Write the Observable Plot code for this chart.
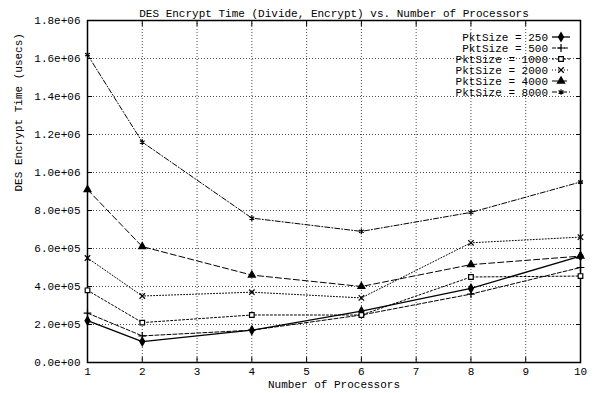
<!DOCTYPE html>
<html><head><meta charset="utf-8">
<script src="https://cdn.jsdelivr.net/npm/d3@7"></script>
<script src="https://cdn.jsdelivr.net/npm/@observablehq/plot@0.6"></script>
<style>body{margin:0;background:#fff}svg{display:block}</style>
</head><body><div id="chart"></div>
<script>
const processors = [1, 2, 4, 6, 8, 10];
const series = ["PktSize = 250", "PktSize = 500", "PktSize = 1000", "PktSize = 2000", "PktSize = 4000", "PktSize = 8000"];
const pkt250  = [2.2e5, 1.1e5, 1.7e5, 2.7e5, 3.9e5, 5.6e5];
const pkt500  = [2.6e5, 1.4e5, 1.7e5, 2.5e5, 3.6e5, 5.0e5];
const pkt1000 = [3.8e5, 2.1e5, 2.5e5, 2.5e5, 4.5e5, 4.55e5];
const pkt2000 = [5.5e5, 3.5e5, 3.7e5, 3.4e5, 6.3e5, 6.6e5];
const pkt4000 = [9.1e5, 6.1e5, 4.6e5, 4.0e5, 5.15e5, 5.6e5];
const pkt8000 = [1.62e6, 1.16e6, 7.6e5, 6.9e5, 7.9e5, 9.5e5];
const xTicks = [1, 2, 3, 4, 5, 6, 7, 8, 9, 10];
const yTicks = [0, 2e5, 4e5, 6e5, 8e5, 1e6, 1.2e6, 1.4e6, 1.6e6, 1.8e6];
const title = "DES Encrypt Time (Divide, Encrypt) vs. Number of Processors";
const xLabel = "Number of Processors";
const yLabel = "DES Encrypt Time (usecs)";

const allValues = [pkt250, pkt500, pkt1000, pkt2000, pkt4000, pkt8000];
const styles = [
  {dash: null, symbol: "diamond", fill: "black", sw: 1.3},
  {dash: "4,2", symbol: "plus", fill: "none", sw: 1},
  {dash: "2,2", symbol: "square", fill: "white", sw: 1},
  {dash: "1,2", symbol: "times", fill: "none", sw: 1},
  {dash: "6,3", symbol: "triangle", fill: "black", sw: 1},
  {dash: "5,2,1,2", symbol: "asterisk", fill: "none", sw: 1}
];
const data = [];
series.forEach((s, i) => processors.forEach((p, j) => data.push({series: s, idx: i, x: p, y: allValues[i][j]})));

const fmt = d => {
  const [m, e] = d.toExponential(1).split("e");
  const sign = e[0] === "-" ? "-" : "+";
  const n = e.replace(/[+-]/, "").padStart(2, "0");
  return m + "e" + sign + n;
};

const font = "'Liberation Mono', 'DejaVu Sans Mono', monospace";
const marks = [
  Plot.gridX(xTicks, {stroke: "black", strokeOpacity: 0.7, strokeDasharray: "1,2"}),
  Plot.gridY(yTicks, {stroke: "black", strokeOpacity: 0.7, strokeDasharray: "1,2"}),
  Plot.axisX({ticks: xTicks, tickSize: -5, tickPadding: 10, tickFormat: d => String(d), label: null}),
  Plot.axisX({anchor: "top", ticks: xTicks, tickSize: -5, tickFormat: () => "", label: null}),
  Plot.axisY({ticks: yTicks, tickSize: -5, tickPadding: 12, tickFormat: fmt, label: null}),
  Plot.axisY({anchor: "right", ticks: yTicks, tickSize: -5, tickFormat: () => "", label: null}),
  Plot.frame({stroke: "black", strokeWidth: 1.5}),
  Plot.text([title], {frameAnchor: "top", dy: -11, fontSize: 11, fill: "black"}),
  Plot.text([xLabel], {frameAnchor: "bottom", dy: 25, fontSize: 11, fill: "black"}),
  Plot.text([yLabel], {frameAnchor: "left", dx: -69, rotate: -90, fontSize: 11, fill: "black"})
];
series.forEach((s, i) => {
  const st = styles[i];
  const d = data.filter(r => r.idx === i);
  marks.push(Plot.line(d, {x: "x", y: "y", stroke: "black", strokeWidth: st.sw, strokeDasharray: st.dash}));
  marks.push(Plot.dot(d, {x: "x", y: "y", symbol: () => st.symbol, r: 2.6, stroke: "black", fill: st.fill, strokeWidth: 1.2}));
});

const chart = Plot.plot({
  width: 597, height: 393,
  marginLeft: 87, marginRight: 17, marginTop: 20, marginBottom: 31,
  style: {fontFamily: font, fontSize: "11px", color: "black", background: "white"},
  x: {domain: [1, 10]},
  y: {domain: [0, 1.8e6]},
  symbol: {type: "identity"},
  marks
});
document.getElementById("chart").append(chart);

// legend (inside plot, top-right)
const svg = d3.select(chart);
const lg = svg.append("g").attr("font-family", font).attr("font-size", 11);
const symMap = {diamond: d3.symbolDiamond, plus: d3.symbolPlus, square: d3.symbolSquare, times: d3.symbolTimes, triangle: d3.symbolTriangle, asterisk: d3.symbolAsterisk};
series.forEach((s, i) => {
  const st = styles[i];
  const y = 37 + i * 11;
  lg.append("text").attr("x", 548).attr("y", y).attr("dy", "0.32em").attr("text-anchor", "end").attr("fill", "black").text(s);
  lg.append("line").attr("x1", 552).attr("x2", 570).attr("y1", y).attr("y2", y).attr("stroke", "black").attr("stroke-width", st.sw).attr("stroke-dasharray", st.dash);
  lg.append("path").attr("transform", `translate(561,${y})`).attr("d", d3.symbol(symMap[st.symbol], 22)()).attr("stroke", "black").attr("fill", st.fill).attr("stroke-width", 1.2);
});
</script></body></html>
